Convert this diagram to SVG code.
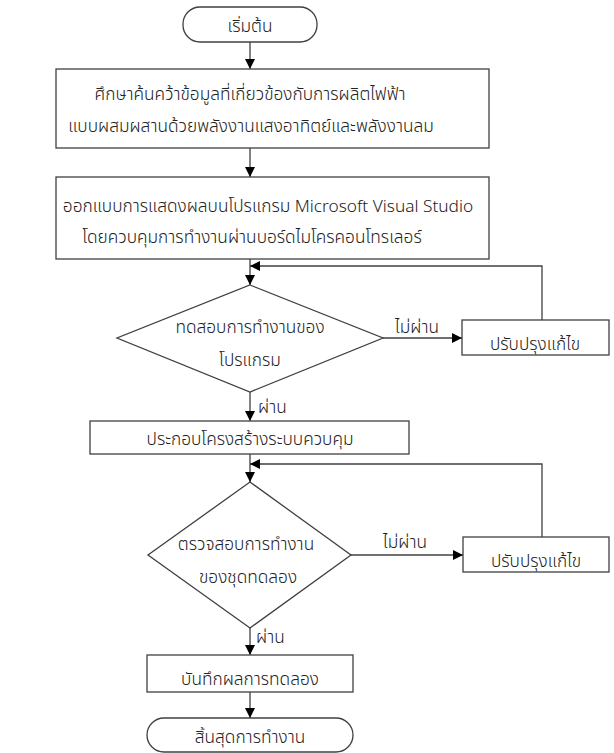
<svg xmlns="http://www.w3.org/2000/svg" width="614" height="753" viewBox="0 0 614 753">
<defs>
<marker id="ah" viewBox="0 0 10 10" refX="10" refY="5" markerWidth="10" markerHeight="10" markerUnits="userSpaceOnUse" orient="auto">
<path d="M0,0 L10,5 L0,10 z" fill="#000"/>
</marker>
<style>
.s{fill:#fff;stroke:#404040;stroke-width:1.3}
.c{fill:none;stroke:#404040;stroke-width:1.3}
text{font-family:"Noto Sans Thai","Noto Sans","DejaVu Sans",sans-serif;font-size:17.3px;font-weight:300;fill:#222}
.m{text-anchor:middle}
</style>
</defs>
<rect width="614" height="753" fill="#fff"/>
<g id="connectors">
<line class="c" x1="250" y1="42" x2="250" y2="69" marker-end="url(#ah)"/>
<line class="c" x1="250" y1="148" x2="250" y2="177" marker-end="url(#ah)"/>
<line class="c" x1="250" y1="259" x2="250" y2="285" marker-end="url(#ah)"/>
<polyline class="c" points="542,320 542,266 250,266" marker-end="url(#ah)"/>
<line class="c" x1="383" y1="338" x2="462" y2="338" marker-end="url(#ah)"/>
<line class="c" x1="250" y1="392" x2="250" y2="421" marker-end="url(#ah)"/>
<line class="c" x1="250" y1="454" x2="250" y2="482" marker-end="url(#ah)"/>
<polyline class="c" points="542,537 542,464 250,464" marker-end="url(#ah)"/>
<line class="c" x1="351" y1="555" x2="463" y2="555" marker-end="url(#ah)"/>
<line class="c" x1="250" y1="628" x2="250" y2="655" marker-end="url(#ah)"/>
<line class="c" x1="250" y1="692" x2="250" y2="718" marker-end="url(#ah)"/>
<text x="395" y="333">ไม่ผ่าน</text>
<text x="258" y="413">ผ่าน</text>
<text x="383" y="548">ไม่ผ่าน</text>
<text x="256" y="643">ผ่าน</text>
</g>
<g id="start">
<rect class="s" x="183" y="7" width="134" height="35" rx="17"/>
<text class="m" x="250" y="32">เริ่มต้น</text>
</g>
<g id="study">
<rect class="s" x="56" y="69" width="433" height="79"/>
<text class="m" x="250" y="100">ศึกษาค้นคว้าข้อมูลที่เกี่ยวข้องกับการผลิตไฟฟ้า</text>
<text class="m" x="251" y="132">แบบผสมผสานด้วยพลังงานแสงอาทิตย์และพลังงานลม</text>
</g>
<g id="design">
<rect class="s" x="56" y="177" width="433" height="82"/>
<text class="m" x="268" y="212">ออกแบบการแสดงผลบนโปรแกรม Microsoft Visual Studio</text>
<text class="m" x="252" y="243">โดยควบคุมการทำงานผ่านบอร์ดไมโครคอนโทรเลอร์</text>
</g>
<g id="test1">
<polygon class="s" points="250,285 383,338 250,392 117,338"/>
<text class="m" x="250" y="333">ทดสอบการทำงานของ</text>
<text class="m" x="250" y="366">โปรแกรม</text>
</g>
<g id="fix1">
<rect class="s" x="462" y="320" width="147" height="35"/>
<text class="m" x="535" y="350">ปรับปรุงแก้ไข</text>
</g>
<g id="assemble">
<rect class="s" x="90" y="421" width="319" height="33"/>
<text class="m" x="250" y="445">ประกอบโครงสร้างระบบควบคุม</text>
</g>
<g id="test2">
<polygon class="s" points="250,482 351,555 250,628 148,555"/>
<text class="m" x="246" y="550">ตรวจสอบการทำงาน</text>
<text class="m" x="248" y="583">ของชุดทดลอง</text>
</g>
<g id="fix2">
<rect class="s" x="463" y="537" width="146" height="35"/>
<text class="m" x="536" y="567">ปรับปรุงแก้ไข</text>
</g>
<g id="record">
<rect class="s" x="147" y="655" width="206" height="37"/>
<text class="m" x="250" y="685">บันทึกผลการทดลอง</text>
</g>
<g id="end">
<rect class="s" x="147" y="718" width="206" height="34" rx="17"/>
<text class="m" x="250" y="743">สิ้นสุดการทำงาน</text>
</g>
</svg>
